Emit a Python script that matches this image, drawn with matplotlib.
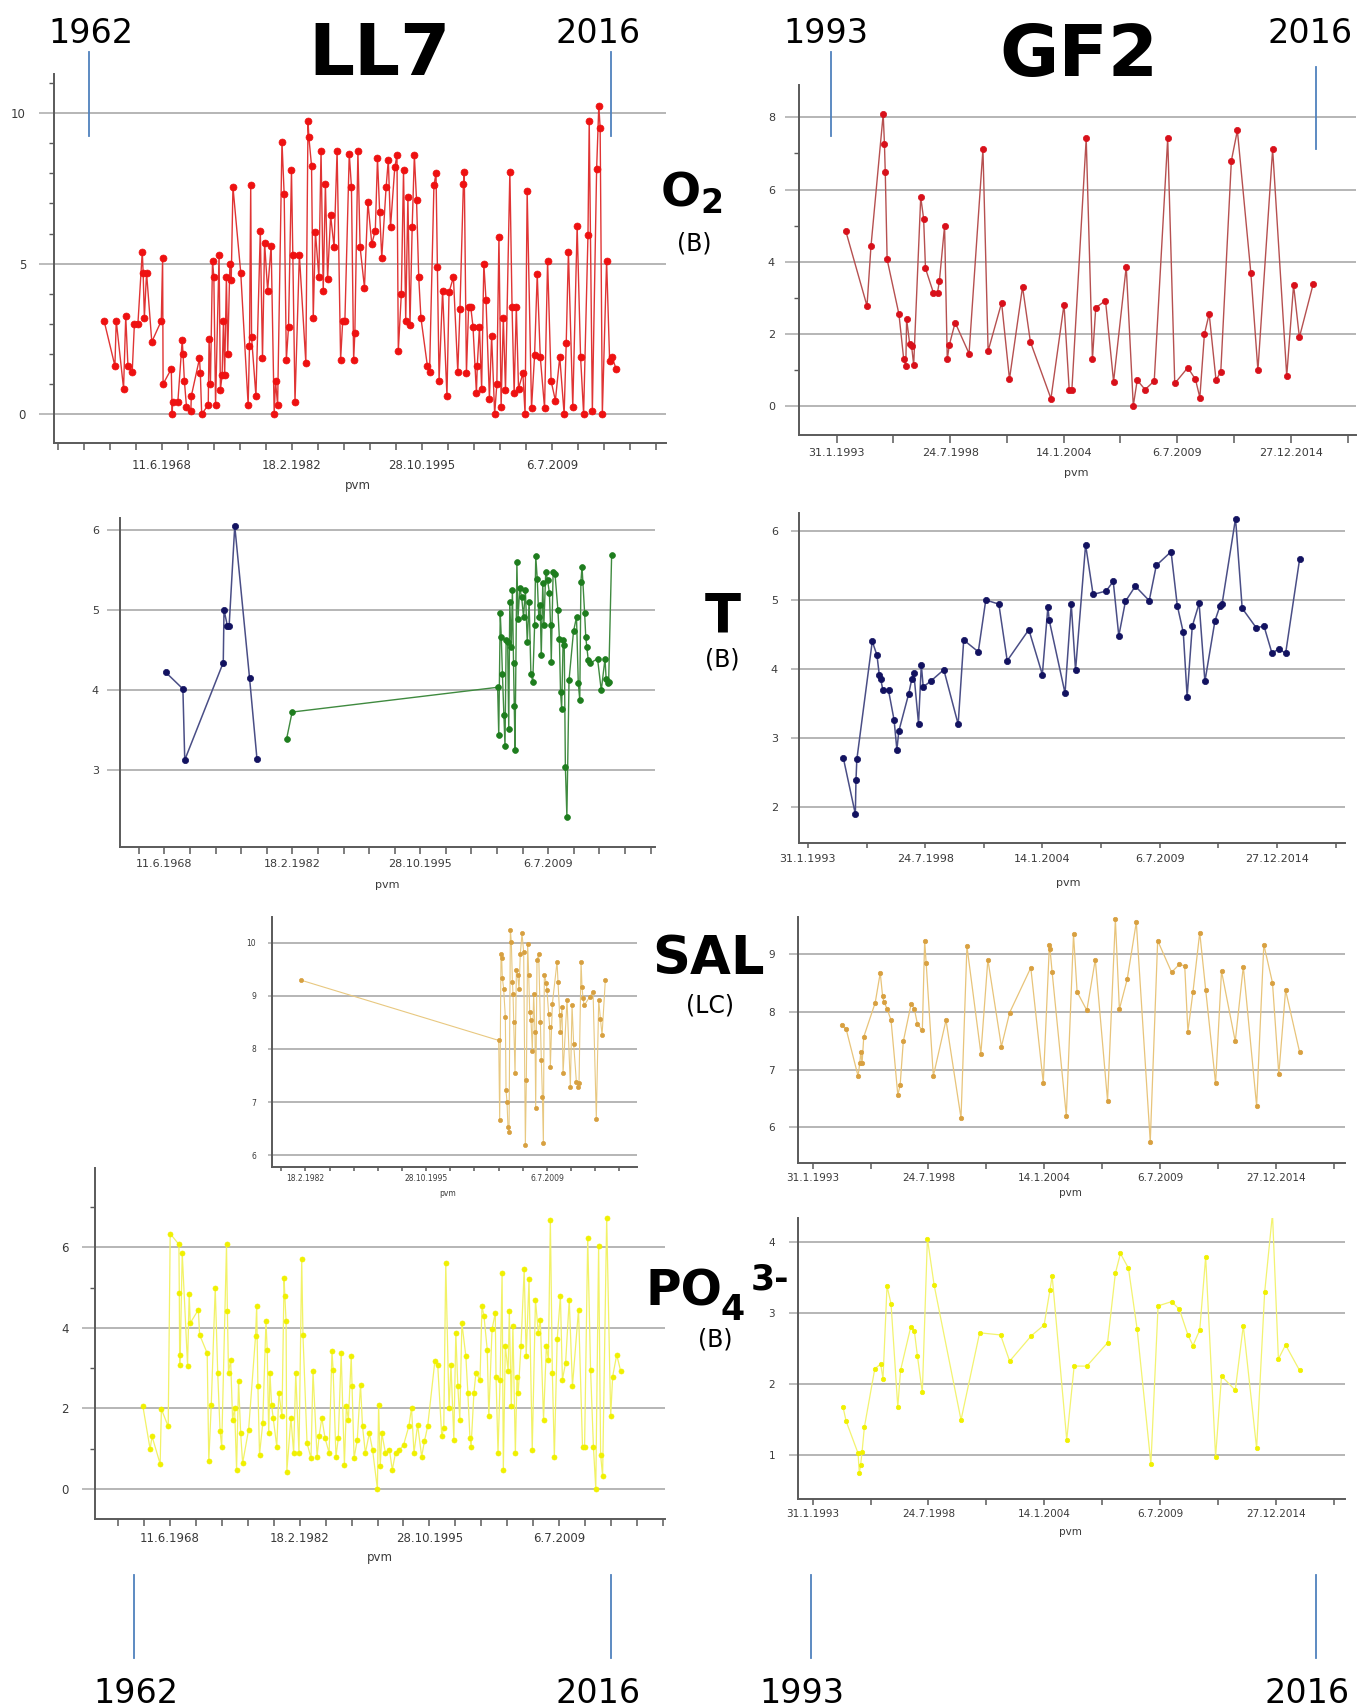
import matplotlib
matplotlib.use("Agg")
import matplotlib.pyplot as plt
from matplotlib.lines import Line2D
from datetime import date, timedelta

W, H, DPI = 1360, 1707, 100

# ---------------- tick label data ----------------
LL7_TICK_LABELS = ["11.6.1968", "18.2.1982", "28.10.1995", "6.7.2009"]
GF2_TICK_LABELS = ["31.1.1993", "24.7.1998", "14.1.2004", "6.7.2009", "27.12.2014"]

# ---------------- LL7 O2 (B) ----------------
LL7_O2_YEAR = [1962.37, 1963.51, 1963.65, 1964.42, 1964.65, 1964.88, 1965.33, 1965.56, 1965.93, 1966.39,
               1966.48, 1966.61, 1966.84, 1967.39, 1968.39, 1968.53, 1968.58, 1969.44, 1969.54, 1969.58,
               1970.13, 1970.59, 1970.68, 1970.82, 1971.04, 1971.50, 1971.55, 1972.41, 1972.50, 1972.64,
               1973.33, 1973.42, 1973.56, 1973.78, 1973.92, 1974.10, 1974.47, 1974.61, 1974.79, 1974.93,
               1975.06, 1975.24, 1975.38, 1975.61, 1975.75, 1975.93, 1976.75, 1977.53, 1977.67, 1977.80,
               1977.89, 1978.35, 1978.81, 1979.04, 1979.26, 1979.58, 1979.95, 1980.27, 1980.41, 1980.63,
               1981.09, 1981.32, 1981.55, 1981.78, 1982.09, 1982.23, 1982.46, 1982.92, 1983.60, 1983.83,
               1983.92, 1984.20, 1984.38, 1984.61, 1984.97, 1985.20, 1985.43, 1985.66, 1985.89, 1986.21,
               1986.57, 1986.89, 1987.26, 1987.48, 1987.71, 1988.17, 1988.40, 1988.63, 1988.76, 1989.08,
               1989.31, 1989.77, 1990.13, 1990.54, 1990.91, 1991.14, 1991.37, 1991.59, 1992.05, 1992.28,
               1992.51, 1992.96, 1993.19, 1993.33, 1993.65, 1993.88, 1994.11, 1994.34, 1994.56, 1994.79,
               1995.02, 1995.25, 1995.48, 1995.71, 1996.39, 1996.62, 1997.08, 1997.30, 1997.44, 1997.62,
               1997.99, 1998.45, 1998.67, 1999.13, 1999.59, 1999.82, 2000.18, 2000.27, 2000.50, 2000.73,
               2000.96, 2001.19, 2001.55, 2001.64, 2001.87, 2002.10, 2002.33, 2002.56, 2002.92, 2003.15,
               2003.47, 2003.70, 2003.92, 2004.15, 2004.38, 2004.61, 2005.07, 2005.30, 2005.52, 2005.75,
               2005.98, 2006.44, 2006.67, 2006.89, 2007.35, 2007.67, 2007.95, 2008.27, 2008.72, 2009.04,
               2009.41, 2009.86, 2010.32, 2010.78, 2011.00, 2011.23, 2011.69, 2012.15, 2012.51, 2012.83,
               2013.29, 2013.42, 2013.75, 2014.20, 2014.43, 2014.57, 2014.80, 2015.25, 2015.57, 2015.80,
               2016.26]
LL7_O2_VAL = [3.1, 1.6, 3.1, 0.85, 3.25, 1.6, 1.4, 3.0, 3.0, 5.4,
              4.7, 3.2, 4.7, 2.4, 3.1, 5.2, 1.0, 1.5, 0.0, 0.4,
              0.4, 2.45, 2.0, 1.1, 0.25, 0.1, 0.6, 1.85, 1.35, 0.0,
              0.3, 2.5, 1.0, 5.1, 4.55, 0.3, 5.3, 0.8, 1.3, 3.1,
              1.3, 4.55, 2.0, 5.0, 4.45, 7.55, 4.7, 0.3, 2.25, 7.6,
              2.55, 0.6, 6.1, 1.85, 5.7, 4.1, 5.6, 0.0, 1.1, 0.3,
              9.05, 7.3, 1.8, 2.9, 8.1, 5.3, 0.4, 5.3, 1.7, 9.75,
              9.2, 8.25, 3.2, 6.05, 4.55, 8.75, 4.1, 7.65, 4.5, 6.6,
              5.55, 8.75, 1.8, 3.1, 3.1, 8.65, 7.55, 1.8, 2.7, 8.75,
              5.55, 4.2, 7.05, 5.65, 6.1, 8.5, 6.7, 5.2, 7.55, 8.45,
              6.2, 8.2, 8.6, 2.1, 4.0, 8.1, 3.1, 7.2, 2.95, 6.2,
              8.6, 7.1, 4.55, 3.2, 1.6, 1.4, 7.6, 8.0, 4.9, 1.1,
              4.1, 0.6, 4.05, 4.55, 1.4, 3.5, 7.65, 8.05, 1.35, 3.55,
              3.55, 2.9, 0.7, 1.6, 2.9, 0.85, 5.0, 3.8, 0.5, 2.6,
              0.0, 1.0, 5.9, 0.25, 3.2, 0.8, 8.05, 3.55, 0.7, 3.55,
              0.85, 1.35, 0.0, 7.4, 0.2, 1.95, 4.65, 1.9, 0.2, 5.1,
              1.1, 0.45, 1.9, 0.0, 2.35, 5.4, 0.25, 6.25, 1.9, 0.0,
              5.95, 9.75, 0.1, 8.15, 10.25, 9.5, 0.0, 5.1, 1.75, 1.9,
              1.5]

# ---------------- GF2 O2 (B) ----------------
GF2_O2_YEAR = [1993.52, 1994.55, 1994.74, 1995.33, 1995.39, 1995.43, 1995.52, 1996.09, 1996.32, 1996.42,
               1996.46, 1996.61, 1996.70, 1996.80, 1997.14, 1997.28, 1997.37, 1997.75, 1997.95, 1998.04,
               1998.29, 1998.42, 1998.52, 1998.80, 1999.47, 2000.14, 2000.39, 2001.04, 2001.42, 2002.05,
               2002.43, 2003.42, 2004.05, 2004.30, 2004.43, 2005.12, 2005.42, 2005.58, 2006.05, 2006.44,
               2007.05, 2007.39, 2007.58, 2007.96, 2008.40, 2009.05, 2009.39, 2010.02, 2010.39, 2010.60,
               2010.82, 2011.05, 2011.38, 2011.61, 2012.12, 2012.41, 2013.06, 2013.40, 2014.11, 2014.79,
               2015.12, 2015.40, 2016.07]
GF2_O2_VAL = [4.86, 2.77, 4.42, 8.09, 7.27, 6.48, 4.06, 2.54, 1.29, 1.10,
              2.40, 1.71, 1.66, 1.13, 5.79, 5.19, 3.81, 3.14, 3.14, 3.46,
              4.99, 1.29, 1.69, 2.31, 1.45, 7.12, 1.52, 2.86, 0.74, 3.30,
              1.77, 0.20, 2.81, 0.45, 0.45, 7.42, 1.29, 2.72, 2.92, 0.67,
              3.86, 0.0, 0.71, 0.45, 0.69, 7.42, 0.62, 1.06, 0.73, 0.23,
              1.99, 2.55, 0.71, 0.95, 6.80, 7.64, 3.68, 0.99, 7.12, 0.83,
              3.35, 1.90, 3.39]

# ---------------- LL7 T (B): two series ----------------
LL7_T1_YEAR = [1968.56, 1970.42, 1970.62, 1974.74, 1974.82, 1975.18, 1975.37, 1975.97, 1977.55, 1978.35]
LL7_T1_VAL = [4.22, 4.01, 3.12, 4.34, 5.00, 4.80, 4.80, 6.05, 4.15, 3.13]
LL7_T2_YEAR = [1981.51, 1982.11, 2004.10, 2004.22, 2004.38, 2004.49, 2004.61, 2004.77, 2004.89, 2005.01,
               2005.17, 2005.29, 2005.40, 2005.56, 2005.68, 2005.80, 2005.88, 2005.96, 2006.16, 2006.28,
               2006.47, 2006.67, 2006.87, 2007.07, 2007.27, 2007.47, 2007.66, 2007.86, 2008.06, 2008.18,
               2008.34, 2008.50, 2008.65, 2008.77, 2008.93, 2009.05, 2009.25, 2009.45, 2009.64, 2009.76,
               2009.84, 2010.04, 2010.24, 2010.55, 2010.71, 2010.83, 2010.95, 2011.11, 2011.23, 2011.35,
               2011.51, 2011.74, 2012.22, 2012.54, 2012.73, 2012.89, 2013.01, 2013.13, 2013.41, 2013.53,
               2013.64, 2013.80, 2014.00, 2014.79, 2015.19, 2015.59, 2015.71, 2015.87, 2015.98, 2016.30]
LL7_T2_VAL = [3.38, 3.72, 4.03, 3.43, 4.96, 4.66, 4.20, 3.68, 3.29, 4.62,
              4.60, 3.51, 5.10, 4.54, 5.25, 4.33, 3.79, 3.25, 5.60, 4.89,
              5.27, 5.16, 4.91, 5.25, 4.60, 5.10, 4.20, 4.10, 4.81, 5.67,
              5.39, 4.91, 5.06, 4.43, 5.33, 4.81, 5.48, 5.37, 5.21, 4.81,
              4.35, 5.48, 5.45, 5.00, 4.64, 3.97, 3.76, 4.62, 4.56, 3.03,
              2.41, 4.12, 4.73, 4.91, 4.08, 3.87, 5.35, 5.54, 4.96, 4.66,
              4.54, 4.37, 4.33, 4.39, 3.99, 4.39, 4.14, 4.09, 4.10, 5.69]

# ---------------- GF2 T (B) ----------------
GF2_T_YEAR = [1994.74, 1995.30, 1995.33, 1995.37, 1996.09, 1996.31, 1996.42, 1996.48, 1996.59, 1996.85,
              1997.11, 1997.24, 1997.33, 1997.79, 1997.94, 1998.03, 1998.25, 1998.38, 1998.47, 1998.84,
              1999.43, 2000.10, 2000.36, 2001.04, 2001.39, 2002.00, 2002.39, 2003.40, 2004.03, 2004.29,
              2004.35, 2005.09, 2005.38, 2005.58, 2006.05, 2006.40, 2007.01, 2007.34, 2007.60, 2007.91,
              2008.37, 2009.02, 2009.35, 2010.04, 2010.33, 2010.61, 2010.79, 2011.03, 2011.35, 2011.62,
              2012.09, 2012.33, 2012.42, 2013.05, 2013.36, 2014.01, 2014.38, 2014.75, 2015.06, 2015.39,
              2016.04]
GF2_T_VAL = [2.71, 1.90, 2.39, 2.69, 4.40, 4.20, 3.91, 3.86, 3.69, 3.69,
             3.26, 2.83, 3.10, 3.64, 3.86, 3.94, 3.21, 4.06, 3.74, 3.83,
             3.99, 3.20, 4.42, 4.25, 5.00, 4.94, 4.12, 4.57, 3.92, 4.90,
             4.71, 3.65, 4.94, 3.98, 5.80, 5.08, 5.13, 5.27, 4.48, 4.98,
             5.20, 4.99, 5.50, 5.70, 4.92, 4.53, 3.60, 4.62, 4.95, 3.82,
             4.70, 4.92, 4.94, 6.18, 4.88, 4.60, 4.62, 4.23, 4.29, 4.23,
             5.59]

# ---------------- LL7 SAL (LC) ----------------
LL7_SAL_YEAR = [1981.68, 2004.04, 2004.15, 2004.30, 2004.38, 2004.45, 2004.60, 2004.79, 2004.87, 2004.98,
                2005.09, 2005.21, 2005.36, 2005.47, 2005.59, 2005.66, 2005.74, 2005.89, 2006.04, 2006.19,
                2006.34, 2006.49, 2006.68, 2006.87, 2007.06, 2007.17, 2007.32, 2007.44, 2007.55, 2007.70,
                2007.85, 2008.00, 2008.15, 2008.23, 2008.38, 2008.57, 2008.76, 2008.87, 2008.99, 2009.10,
                2009.21, 2009.44, 2009.51, 2009.70, 2009.82, 2009.89, 2010.12, 2010.65, 2010.76, 2010.95,
                2011.02, 2011.21, 2011.33, 2011.78, 2012.16, 2012.35, 2012.53, 2012.84, 2012.99, 2013.14,
                2013.37, 2013.48, 2013.59, 2013.74, 2014.35, 2014.73, 2015.10, 2015.37, 2015.56, 2015.75,
                2016.12]
LL7_SAL_VAL = [9.29, 8.16, 6.66, 9.79, 9.70, 9.34, 9.13, 8.60, 7.22, 7.00,
               6.53, 6.44, 10.24, 10.01, 9.26, 9.04, 8.51, 7.54, 9.48, 9.39,
               9.13, 9.79, 10.17, 9.82, 6.19, 7.41, 9.98, 9.39, 8.70, 8.54,
               7.97, 9.04, 8.32, 6.88, 9.67, 9.79, 8.51, 7.79, 7.10, 6.23,
               9.39, 9.24, 9.10, 8.66, 8.41, 7.66, 8.85, 9.64, 9.26, 8.63,
               8.32, 8.79, 7.54, 8.92, 7.29, 8.82, 8.10, 7.38, 7.29, 7.35,
               9.64, 9.17, 8.95, 8.82, 8.98, 9.07, 6.69, 8.92, 8.57, 8.26,
               9.29]

# ---------------- GF2 SAL (LC) ----------------
GF2_SAL_YEAR = [1994.48, 1994.67, 1995.23, 1995.31, 1995.36, 1995.42, 1995.50, 1996.04, 1996.28, 1996.39,
                1996.45, 1996.60, 1996.79, 1997.11, 1997.22, 1997.37, 1997.74, 1997.89, 1998.04, 1998.27,
                1998.38, 1998.45, 1998.79, 1999.39, 2000.10, 2000.38, 2001.04, 2001.37, 2002.01, 2002.40,
                2003.40, 2003.99, 2004.28, 2004.31, 2004.41, 2005.08, 2005.42, 2005.59, 2006.05, 2006.45,
                2007.03, 2007.40, 2007.59, 2007.96, 2008.39, 2009.05, 2009.40, 2010.06, 2010.43, 2010.68,
                2010.83, 2011.07, 2011.39, 2011.67, 2012.14, 2012.42, 2013.07, 2013.45, 2014.08, 2014.42,
                2014.83, 2015.13, 2015.45, 2016.11]
GF2_SAL_VAL = [7.77, 7.70, 6.89, 7.11, 7.30, 7.11, 7.57, 8.16, 8.68, 8.28,
               8.18, 8.06, 7.86, 6.56, 6.73, 7.49, 8.14, 8.06, 7.79, 7.68,
               9.23, 8.86, 6.89, 7.86, 6.16, 9.14, 7.28, 8.91, 7.40, 7.99,
               8.77, 6.77, 9.16, 9.09, 8.69, 6.20, 9.35, 8.35, 8.03, 8.91,
               6.46, 9.61, 8.05, 8.57, 9.56, 5.75, 9.24, 8.69, 8.83, 8.80,
               7.66, 8.35, 9.38, 8.39, 6.76, 8.71, 7.49, 8.79, 6.37, 9.17,
               8.51, 6.92, 8.38, 7.31]

# ---------------- LL7 PO4 (B) ----------------
LL7_PO4_YEAR = [1965.60, 1966.36, 1966.57, 1967.42, 1967.55, 1968.27, 1968.48, 1969.40, 1969.44, 1969.48,
                1969.54, 1969.75, 1970.31, 1970.48, 1970.60, 1971.45, 1971.58, 1972.38, 1972.55, 1972.81,
                1973.23, 1973.49, 1973.74, 1973.91, 1974.42, 1974.51, 1974.63, 1974.85, 1975.06, 1975.27,
                1975.48, 1975.69, 1975.91, 1976.12, 1976.75, 1977.48, 1977.60, 1977.73, 1977.90, 1978.24,
                1978.58, 1978.71, 1978.87, 1979.00, 1979.17, 1979.34, 1979.72, 1979.94, 1980.27, 1980.49,
                1980.57, 1980.70, 1980.78, 1981.21, 1981.50, 1981.72, 1982.06, 1982.35, 1982.48, 1982.91,
                1983.33, 1983.54, 1983.97, 1984.18, 1984.47, 1984.81, 1985.24, 1985.54, 1985.66, 1985.96,
                1986.21, 1986.51, 1986.85, 1987.06, 1987.27, 1987.57, 1987.66, 1987.87, 1988.21, 1988.55,
                1988.76, 1989.06, 1989.48, 1989.82, 1990.33, 1990.46, 1990.63, 1990.80, 1991.18, 1991.60,
                1991.90, 1992.24, 1992.66, 1993.09, 1993.64, 1993.93, 1994.19, 1994.57, 1995.00, 1995.29,
                1995.63, 1996.39, 1996.69, 1997.12, 1997.33, 1997.54, 1997.88, 1998.09, 1998.39, 1998.60,
                1998.81, 1999.02, 1999.24, 1999.66, 1999.87, 2000.09, 2000.21, 2000.51, 2000.72, 2001.15,
                2001.36, 2001.57, 2001.91, 2002.08, 2002.42, 2002.76, 2002.84, 2003.05, 2003.27, 2003.48,
                2003.61, 2003.82, 2004.12, 2004.24, 2004.45, 2004.62, 2004.88, 2005.05, 2005.18, 2005.47,
                2005.81, 2006.02, 2006.32, 2006.66, 2007.00, 2007.30, 2007.51, 2007.85, 2008.15, 2008.36,
                2008.57, 2008.78, 2008.99, 2009.29, 2009.63, 2009.84, 2010.18, 2010.56, 2010.90, 2011.54,
                2011.96, 2012.18, 2012.51, 2012.81, 2013.11, 2013.36, 2013.66, 2013.87, 2014.08, 2014.51,
                2014.93, 2015.14, 2015.57, 2015.99]
LL7_PO4_VAL = [2.05, 0.99, 1.30, 0.62, 1.98, 1.55, 6.34, 6.07, 4.87, 3.08,
               3.33, 5.86, 3.06, 4.83, 4.12, 4.45, 3.83, 3.37, 0.68, 2.09,
               4.99, 2.88, 1.43, 1.05, 6.07, 4.41, 2.88, 3.21, 1.72, 2.01,
               0.47, 2.67, 1.38, 0.64, 1.47, 3.79, 4.54, 2.55, 0.85, 1.63,
               4.16, 3.46, 1.38, 2.88, 2.09, 1.76, 1.05, 2.38, 1.80, 5.24,
               4.79, 4.16, 0.43, 1.76, 0.89, 2.88, 0.89, 5.70, 3.83, 1.14,
               0.76, 2.92, 0.80, 1.30, 1.76, 1.26, 0.89, 3.42, 2.96, 0.80,
               1.26, 3.37, 0.60, 2.05, 1.72, 3.29, 2.55, 0.76, 1.22, 2.59,
               1.55, 0.89, 1.38, 0.97, 0.0, 2.09, 0.56, 1.38, 0.89, 0.97,
               0.47, 0.89, 0.97, 1.09, 1.55, 2.01, 0.89, 1.59, 0.80, 1.18,
               1.55, 3.17, 3.08, 1.30, 1.51, 5.61, 2.01, 3.08, 1.22, 3.87,
               2.55, 1.72, 4.12, 3.29, 2.38, 1.26, 1.05, 2.38, 2.88, 2.71,
               4.54, 4.29, 3.46, 1.80, 3.96, 4.37, 2.79, 0.89, 2.71, 5.36,
               0.47, 3.54, 2.92, 4.41, 2.05, 4.04, 0.89, 2.79, 2.38, 3.54,
               5.45, 3.29, 5.20, 0.97, 4.70, 3.87, 4.20, 1.72, 3.54, 3.21,
               6.69, 2.88, 0.80, 3.71, 4.79, 2.71, 3.13, 4.70, 2.55, 4.45,
               1.05, 1.05, 6.24, 2.96, 1.05, 0.0, 6.03, 0.85, 0.31, 6.73,
               1.80, 2.79, 3.33, 2.92]

# ---------------- GF2 PO4 (B) ----------------
GF2_PO4_YEAR = [1994.52, 1994.67, 1995.23, 1995.29, 1995.35, 1995.42, 1995.53, 1996.02, 1996.30, 1996.41,
                1996.60, 1996.79, 1997.11, 1997.24, 1997.72, 1997.89, 1998.04, 1998.27, 1998.51, 1998.83,
                2000.10, 2000.98, 2001.97, 2002.40, 2003.43, 2004.03, 2004.31, 2004.41, 2005.10, 2005.45,
                2006.05, 2007.03, 2007.40, 2007.64, 2008.02, 2008.43, 2009.08, 2009.42, 2010.06, 2010.43,
                2010.83, 2011.07, 2011.39, 2011.67, 2012.14, 2012.42, 2013.07, 2013.45, 2014.08, 2014.46,
                2014.83, 2015.11, 2015.45, 2016.11]
GF2_PO4_VAL = [1.67, 1.47, 1.02, 0.74, 0.85, 1.04, 1.39, 2.21, 2.28, 2.07,
               3.38, 3.13, 1.67, 2.19, 2.80, 2.75, 2.39, 1.88, 4.05, 3.39,
               1.49, 2.72, 2.69, 2.32, 2.68, 2.83, 3.33, 3.52, 1.21, 2.25,
               2.25, 2.58, 3.56, 3.84, 3.63, 2.77, 0.87, 3.10, 3.16, 3.05,
               2.69, 2.54, 2.76, 3.79, 0.97, 2.11, 1.91, 2.82, 1.09, 3.29,
               4.40, 2.35, 2.55, 2.19]


# ---------------- helpers ----------------
def parse(s):
    d, m, y = map(int, s.split("."))
    return date(y, m, d)


def dec_year(d):
    s = date(d.year, 1, 1)
    e = date(d.year + 1, 1, 1)
    return d.year + (d - s).days / (e - s).days


def date_ticks(labels, step_days, lo, hi):
    d0 = parse(labels[0])
    major_step = (parse(labels[1]) - d0).days
    every = major_step // step_days
    majors, mlabels, minors = [], [], []
    for k in range(-80, 80):
        d = d0 + timedelta(days=k * step_days)
        y = dec_year(d)
        if lo <= y <= hi:
            if k % every == 0:
                majors.append(y)
                mlabels.append(f"{d.day}.{d.month}.{d.year}")
            else:
                minors.append(y)
    return majors, mlabels, minors


PX = 72.0 / DPI  # points per pixel

fig = plt.figure(figsize=(W / DPI, H / DPI), dpi=DPI)
fig.patch.set_facecolor("white")

GRID_C = "#a9a9a9"
AXIS_C = "#5a5a5a"
TXT_C = "#3a3a3a"


def panel(rect, xlim, ylim, ymajor, yminor, tick_labels, fs, ytick_len, ypad,
          xtick_len, xpad, pvm_xy, series):
    left, top, right, bottom = rect
    ax = fig.add_axes([left / W, 1 - bottom / H, (right - left) / W, (bottom - top) / H])
    ax.set_facecolor("none")
    ax.set_xlim(*xlim)
    ax.set_ylim(*ylim)
    for s in ("top", "right"):
        ax.spines[s].set_visible(False)
    for s in ("left", "bottom"):
        ax.spines[s].set_color(AXIS_C)
        ax.spines[s].set_linewidth(1.4)
    majors, mlabels, minors = date_ticks(tick_labels, 1000, xlim[0], xlim[1])
    ax.set_xticks(majors)
    ax.set_xticklabels(mlabels)
    ax.set_xticks(minors, minor=True)
    ax.set_yticks(ymajor)
    ax.set_yticklabels([str(v) for v in ymajor])
    ax.set_yticks(yminor, minor=True)
    ax.tick_params(axis="x", which="both", direction="out", length=xtick_len * PX,
                   width=1.1, color=AXIS_C, labelsize=fs, labelcolor=TXT_C, pad=xpad * PX)
    ax.tick_params(axis="y", which="major", direction="out", length=ytick_len * PX,
                   width=1.1, color=GRID_C, labelsize=fs, labelcolor=TXT_C, pad=ypad * PX)
    ax.tick_params(axis="y", which="minor", direction="out", length=5 * PX,
                   width=1.0, color=AXIS_C)
    ax.grid(axis="y", which="major", color=GRID_C, linewidth=1.2)
    ax.set_axisbelow(True)
    for xs, ys, lc, mc, lw, ms in series:
        ax.plot(xs, ys, "-", color=lc, lw=lw, marker="o", ms=ms, mfc=mc, mec=mc,
                mew=0.5, clip_on=True)
    fig.text(pvm_xy[0] / W, 1 - pvm_xy[1] / H, "pvm", ha="center", va="center",
             fontsize=fs, color=TXT_C)
    return ax


# LL7 O2
panel((54, 74, 666, 443), (1957.1, 2021.5), (-0.96, 11.3), [0, 5, 10],
      [v for v in range(0, 12) if v % 5],
      LL7_TICK_LABELS, 8.5, 15, 13, 7, 9, (358, 485),
      [(LL7_O2_YEAR, LL7_O2_VAL, "#e03434", "#ee1111", 1.0, 5.0)])
# GF2 O2
panel((799, 85, 1356, 435), (1991.27, 2018.13), (-0.81, 8.9), [0, 2, 4, 6, 8],
      [1, 3, 5, 7], GF2_TICK_LABELS, 8, 14, 10, 8, 5, (1076, 473),
      [(GF2_O2_YEAR, GF2_O2_VAL, "#b65050", "#d8101a", 1.0, 4.5)])
# LL7 T
panel((120, 518, 655, 847), (1963.69, 2020.94), (2.03, 6.15), [3, 4, 5, 6], [],
      LL7_TICK_LABELS, 8, 13, 8, 7, 5, (387, 885),
      [(LL7_T1_YEAR, LL7_T1_VAL, "#4a4e86", "#121260", 1.1, 4.5),
       (LL7_T2_YEAR, LL7_T2_VAL, "#3f8a3f", "#1e7d1e", 1.0, 4.2)])
# GF2 T
panel((799, 513, 1345, 843), (1992.67, 2018.16), (1.48, 6.26), [2, 3, 4, 5, 6], [],
      GF2_TICK_LABELS, 8, 8, 13, 5, 6, (1068, 883),
      [(GF2_T_YEAR, GF2_T_VAL, "#4a4e86", "#121260", 1.1, 4.5)])
# LL7 SAL
panel((272, 917, 637, 1167), (1978.35, 2019.71), (5.78, 10.48), [6, 7, 8, 9, 10], [],
      LL7_TICK_LABELS, 5.5, 4, 12, 4, 3, (448, 1194),
      [(LL7_SAL_YEAR, LL7_SAL_VAL, "#e8c880", "#d7a040", 0.8, 3.0)])
# GF2 SAL
panel((798, 917, 1345, 1163), (1992.39, 2018.26), (5.38, 9.65), [6, 7, 8, 9], [],
      GF2_TICK_LABELS, 7.5, 9, 14, 6, 4, (1070, 1193),
      [(GF2_SAL_YEAR, GF2_SAL_VAL, "#e8c47a", "#d8a040", 0.9, 3.2)])
# LL7 PO4
panel((95, 1168, 665, 1519), (1960.55, 2020.66), (-0.75, 7.97), [0, 2, 4, 6], [1, 3, 5, 7],
      LL7_TICK_LABELS, 8.5, 13, 13, 7, 6, (380, 1557),
      [(LL7_PO4_YEAR, LL7_PO4_VAL, "#f2f266", "#f0f000", 0.9, 3.6)])
# GF2 PO4
panel((798, 1218, 1345, 1499), (1992.39, 2018.26), (0.375, 4.34), [1, 2, 3, 4], [],
      GF2_TICK_LABELS, 7.5, 9, 14, 6, 4, (1070, 1532),
      [(GF2_PO4_YEAR, GF2_PO4_VAL, "#f3f370", "#f0f000", 0.9, 3.2)])


# ---------------- annotations ----------------
def ftext(x, y, s, size, weight="normal", ha="center"):
    fig.text(x / W, 1 - y / H, s, ha=ha, va="baseline", fontsize=size,
             fontweight=weight, color="black", family="DejaVu Sans")


def vline(x, y0, y1):
    fig.add_artist(Line2D([x / W, x / W], [1 - y0 / H, 1 - y1 / H],
                          transform=fig.transFigure, color="#4f81bd", lw=1.3))


ftext(91, 43, "1962", 24)
ftext(598, 43, "2016", 24)
ftext(380, 75, "LL7", 52, "bold")
ftext(826, 43, "1993", 24)
ftext(1310, 43, "2016", 24)
ftext(1079, 76, "GF2", 52, "bold")

vline(89, 52, 136)
vline(611, 52, 136)
vline(831, 52, 136)
vline(1316, 67, 149)

vline(134, 1575, 1658)
vline(611, 1575, 1658)
vline(811, 1575, 1658)
vline(1316, 1575, 1658)
ftext(136, 1703, "1962", 24)
ftext(598, 1703, "2016", 24)
ftext(802, 1703, "1993", 24)
ftext(1307, 1703, "2016", 24)

ftext(660, 207, r"$\mathbf{O}_{\mathbf{2}}$", 34, "bold", ha="left")
ftext(694, 250, "(B)", 17)
ftext(723, 631, "T", 38, "bold")
ftext(722, 667, "(B)", 17)
ftext(708, 974, "SAL", 38, "bold")
ftext(710, 1012, "(LC)", 17)
ftext(645, 1305, "PO", 35, "bold", ha="left")
ftext(721, 1320, "4", 25, "bold", ha="left")
ftext(751, 1290, "3-", 25, "bold", ha="left")
ftext(715, 1347, "(B)", 17)

fig.savefig("out.png", dpi=DPI, facecolor="white")
